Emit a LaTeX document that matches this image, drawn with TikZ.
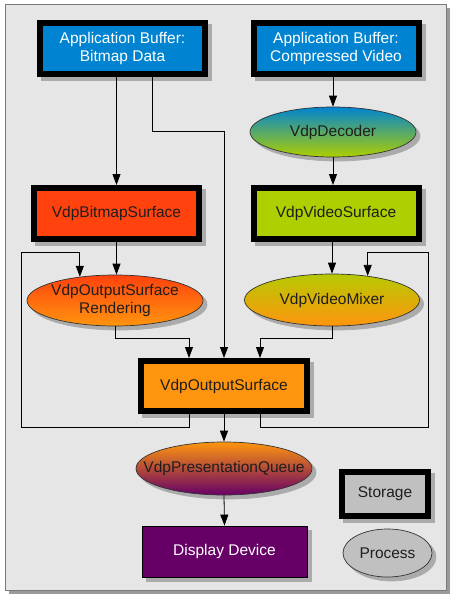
\documentclass[tikz,border=0pt]{standalone}
\usepackage{fontspec}
\setmainfont{Liberation Sans}
\usetikzlibrary{shapes.geometric,arrows.meta}
\definecolor{panel}{HTML}{E6E6E6}
\definecolor{panelborder}{HTML}{7A7A7A}
\definecolor{panelshadow}{HTML}{9A9A9A}
\definecolor{shadowc}{HTML}{ABABAB}
\definecolor{ooblue}{HTML}{0084D1}
\definecolor{oored}{HTML}{FF420E}
\definecolor{oogreen}{HTML}{AECF00}
\definecolor{ooorange}{HTML}{FF950E}
\definecolor{oopurple}{HTML}{660066}
\definecolor{legendgray}{HTML}{C0C0C0}
\definecolor{txt}{HTML}{1E1E1E}
\newcommand\nodefont{\fontsize{15.5}{17.6}\selectfont}
\begin{document}
\begin{tikzpicture}[x=1pt,y=-1pt,
  shadowed/.style={preaction={fill=shadowc, draw=shadowc, transform canvas={shift={(4pt,-4pt)}}}},
  storagebox/.style={rectangle, draw=black, line width=6pt, inner sep=0pt,
    minimum width=165pt, minimum height=51pt, align=center, font=\nodefont, text=txt, shadowed},
  procell/.style={ellipse, draw=black!80, line width=0.7pt, inner sep=0pt, shadowed},
  lbl/.style={inner sep=0pt, align=center, font=\nodefont, text=txt},
  arr/.style={draw=black, line width=0.8pt, -{Triangle[width=8pt,length=11pt]}}
]
\useasboundingbox (0,0) rectangle (458,600);
% panel
\fill[panelshadow] (9,8) rectangle (450,594);
\draw[panelborder, fill=panel, line width=1pt] (5,4) rectangle (446,590);

% storage boxes
\node[storagebox, fill=ooblue, text=white] (ab1) at (122.5,48.5) {Application Buffer:\\Bitmap Data};
\node[storagebox, fill=ooblue, text=white] (ab2) at (336,48.5) {Application Buffer:\\Compressed Video};
\node[storagebox, fill=oored] (bs) at (116.5,213.5) {VdpBitmapSurface};
\node[storagebox, fill=oogreen] (vs) at (336,213.5) {VdpVideoSurface};
\node[storagebox, fill=ooorange, minimum width=166pt, minimum height=50pt] (out) at (224,386) {VdpOutputSurface};

% processes
\node[procell, top color=ooblue, bottom color=oogreen, minimum width=166pt, minimum height=50pt] (dec) at (333,132) {};
\node[lbl] (dect) at (dec) {VdpDecoder};
\node[procell, top color=oored, bottom color=ooorange, minimum width=176pt, minimum height=51pt] (rend) at (115,300.5) {};
\node[lbl] (rendt) at (rend) {VdpOutputSurface\\Rendering};
\node[procell, top color=oogreen!90!ooorange, bottom color=ooorange, minimum width=175pt, minimum height=52pt] (mix) at (332,300) {};
\node[lbl] (mixt) at (mix) {VdpVideoMixer};
\node[procell, top color=ooorange, bottom color=oopurple, minimum width=176pt, minimum height=53pt] (pq) at (224,468.5) {};
\node[lbl] (pqt) at (pq) {VdpPresentationQueue};

% display
\node[rectangle, draw=black, line width=0.8pt, fill=oopurple, text=white, inner sep=0pt,
  minimum width=165pt, minimum height=51pt, font=\nodefont, shadowed] (dd) at (224.5,551.5) {Display Device};

% legend
\node[storagebox, fill=legendgray, minimum width=86pt, minimum height=44pt] (stor) at (385,494) {Storage};
\node[procell, fill=legendgray, minimum width=89pt, minimum height=48pt] (proc) at (387.5,553) {};
\node[lbl] (proct) at (proc) {Process};

% connectors
\coordinate (lb) at (21,427);
\coordinate (lt) at (21,252);
\coordinate (rb) at (428,427);
\coordinate (rt) at (428,252);

\draw[arr] (ab2.south -| dec.north) -- (dec.north);
\draw[arr] (dec.south) -- (dec.south |- vs.north);
\draw[arr] (vs.south -| mix.north) -- (mix.north);
\draw[arr] (ab1.south -| bs.north) -- (bs.north);
\draw[arr] (bs.south) -- (bs.south |- rend.north);
\draw[arr] ([xshift=30pt]ab1.south) -- ++(0,54) -| (out.north);
\draw[arr] (rend.south) -- ++(0,12) -| ([xshift=-35pt]out.north);
\draw[arr] (mix.south) -- ++(0,12) -| ([xshift=36pt]out.north);
\draw[arr] ([xshift=-35pt]out.south) |- (lb) -- (lt) -| (rend.146);
\draw[arr] ([xshift=36pt]out.south) |- (rb) -- (rt) -| (mix.34);
\draw[arr] (out.south) -- (pq.north);
\draw[arr] (pq.south) -- (dd.north);
\end{tikzpicture}
\end{document}
